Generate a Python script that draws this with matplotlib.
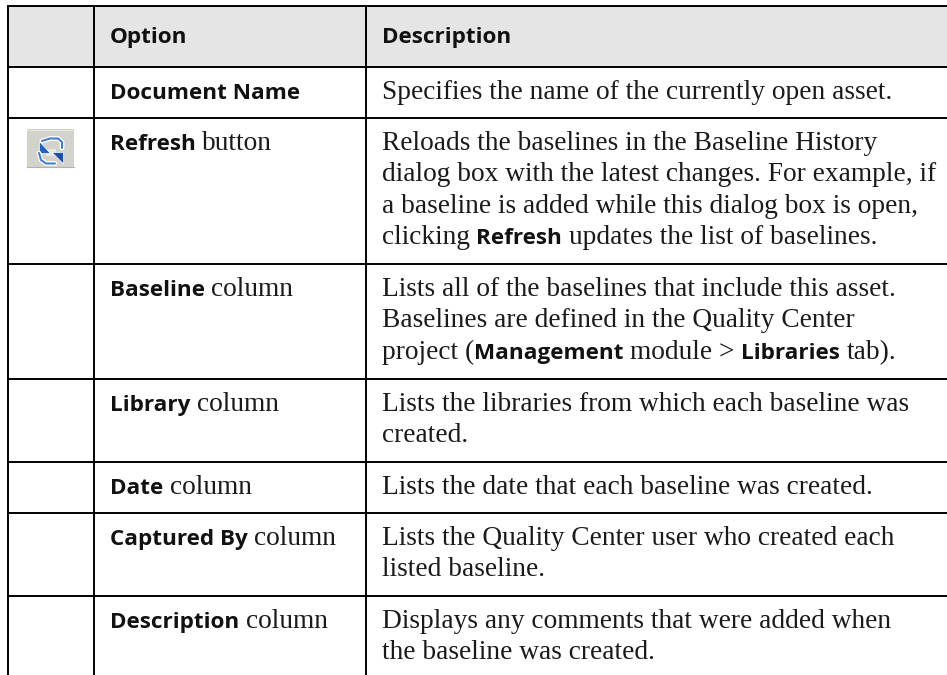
import matplotlib
matplotlib.use("Agg")
import matplotlib.pyplot as plt
from matplotlib.patches import Rectangle, Polygon

W, H = 947, 675

# table content, each run is (text, bold)
headers = ["", "Option", "Description"]
option_rows = [
    [("Document Name", True)],
    [("Refresh", True), (" button", False)],
    [("Baseline", True), (" column", False)],
    [("Library", True), (" column", False)],
    [("Date", True), (" column", False)],
    [("Captured By", True), (" column", False)],
    [("Description", True), (" column", False)],
]
description_rows = [
    [[("Specifies the name of the currently open asset.", False)]],
    [[("Reloads the baselines in the Baseline History", False)],
     [("dialog box with the latest changes. For example, if", False)],
     [("a baseline is added while this dialog box is open,", False)],
     [("clicking ", False), ("Refresh", True), (" updates the list of baselines.", False)]],
    [[("Lists all of the baselines that include this asset.", False)],
     [("Baselines are defined in the Quality Center", False)],
     [("project (", False), ("Management", True), (" module > ", False), ("Libraries", True), (" tab).", False)]],
    [[("Lists the libraries from which each baseline was", False)],
     [("created.", False)]],
    [[("Lists the date that each baseline was created.", False)]],
    [[("Lists the Quality Center user who created each", False)],
     [("listed baseline.", False)]],
    [[("Displays any comments that were added when", False)],
     [("the baseline was created.", False)]],
]
row_edges = [6, 67, 118, 264, 379, 462, 513, 596]
col_edges = [8, 94, 366]

fig = plt.figure(figsize=(W / 100, H / 100), dpi=100)
ax = fig.add_axes([0, 0, 1, 1])
ax.set_xlim(0, W)
ax.set_ylim(H, 0)
ax.axis("off")
renderer = fig.canvas.get_renderer()
GAP = 6.5


def draw_runs(x, y, runs):
    # bold runs are sans, normal runs are serif, placed one after the other
    for s, bold in runs:
        if s.startswith(" "):
            x += GAP
        if bold:
            t = ax.text(x, y, s.strip(), family="Open Sans", weight="bold", fontsize=16.2,
                        color="#111111", va="baseline", ha="left")
        else:
            t = ax.text(x, y, s.strip(), family="Liberation Serif", fontsize=19.7,
                        color="#1a1a1a", va="baseline", ha="left")
        x += t.get_window_extent(renderer).width
        if s.endswith(" "):
            x += GAP


# header band
ax.add_patch(Rectangle((col_edges[0], row_edges[0]), W - col_edges[0],
                       row_edges[1] - row_edges[0], fc="#e5e5e5", ec="none"))

# grid
for y in row_edges:
    ax.plot([col_edges[0] - 1, W], [y, y], color="black", lw=1.4, solid_capstyle="butt")
for x in col_edges:
    ax.plot([x, x], [row_edges[0], H], color="black", lw=1.4, solid_capstyle="butt")

# header text
draw_runs(110, 43, [(headers[1], True)])
draw_runs(382, 43, [(headers[2], True)])

# rows
for i, runs in enumerate(option_rows):
    draw_runs(110, row_edges[i + 1] + 32, runs)
for i, lines in enumerate(description_rows):
    for j, runs in enumerate(lines):
        draw_runs(382, row_edges[i + 1] + 32 + j * 31.4, runs)

# refresh button icon
ax.add_patch(Rectangle((27, 129), 47, 38.5, fc="#d4d3cb", ec="none"))
ax.plot([27, 74], [129.5, 129.5], color="#e6e5df", lw=0.8)
ax.plot([27, 74], [167, 167], color="#b4b3ab", lw=0.8)
ax.add_patch(Rectangle((46, 149), 10, 7, fc="#e9e8e2", ec="none"))
for xs, ys in [([42, 50, 58, 62, 62], [141, 138.5, 138.5, 142, 148]),
               ([39, 41, 46, 55], [153, 160, 163.5, 163.5])]:
    ax.plot(xs, ys, color="white", lw=3.4, solid_capstyle="round")
    ax.plot(xs, ys, color="#3f7fd6", lw=1.5, solid_capstyle="round")
ax.add_patch(Polygon([(38.5, 140.5), (38.5, 153), (50, 153)], fc="#1f63c4", ec="white", lw=0.5))
ax.add_patch(Polygon([(63.5, 152.5), (52, 152.5), (63.5, 164)], fc="#1f4fa8", ec="white", lw=0.5))

fig.savefig("out.png", dpi=100)
